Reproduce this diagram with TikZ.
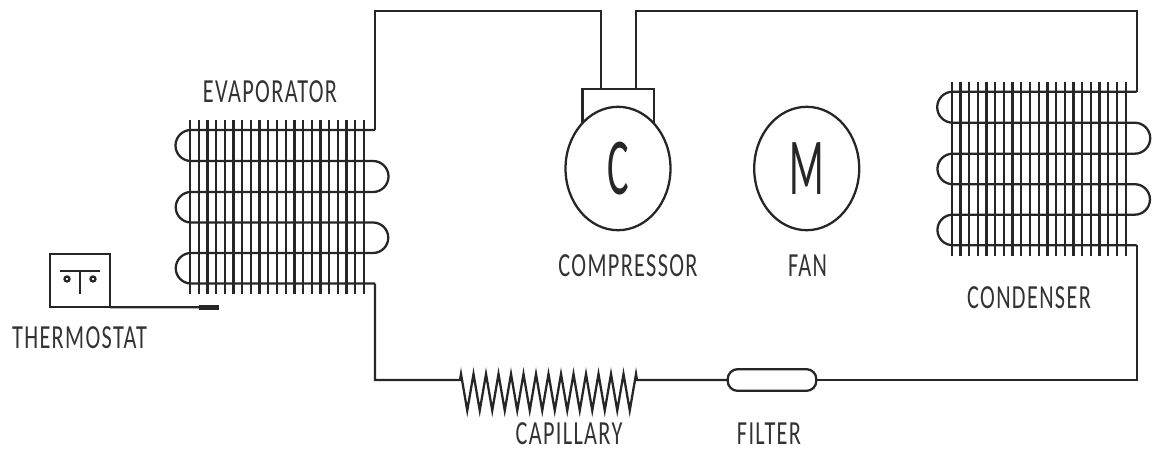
\documentclass[tikz,border=0pt]{standalone}
\usepackage{fontspec}
\usetikzlibrary{shapes.geometric}
\newfontfamily\labelfont[FakeStretch=0.66,LetterSpace=4]{Carlito}
\newfontfamily\bigfont[FakeStretch=0.5]{Carlito}
\tikzset{
  pipe/.style={line width=.65pt,color=black!85,outer sep=0pt},
  unit/.style={draw,ellipse,pipe,fill=white,inner sep=0pt,minimum width=1.05cm,minimum height=1.234cm,font=\bigfont\fontsize{23}{23}\selectfont},
  tag/.style={inner sep=0pt,text=black!80,font=\labelfont\fontsize{9.6}{10}\selectfont},
  pics/coil/.style={code={
    \foreach \i in {0,...,20}
      \draw[pipe] ({\i*.087},0) -- ({\i*.087},-1.74);
    \coordinate(-in) at (1.85,-.10);
    \coordinate(-out) at (1.85,-1.635);
    \draw[pipe] (-in) -- (.01,-.10) arc (90:270:.155)
      -- (1.83,-.41) arc (90:-90:.155)
      -- (.01,-.72) arc (90:270:.1525)
      -- (1.83,-1.025) arc (90:-90:.1525)
      -- (.01,-1.33) arc (90:270:.1525)
      -- (-out);
  }}
}
\begin{document}
\begin{tikzpicture}
   \useasboundingbox (0,0) rectangle (11.55,4.5);

   \pic(evap) at (1.9,3.3) {coil};
   \pic(cond) at (9.517,3.683) {coil};

   \node(head)[draw,pipe,minimum width=.713cm,minimum height=.51cm,inner sep=0pt] at (6.18,3.355) {};
   \node(comp)[unit] at (6.18,2.815) {C};
   \node(fan)[unit] at (8.067,2.815) {M};

   \coordinate(suction) at (6.007,3.61);
   \coordinate(discharge) at (6.36,3.61);
   \coordinate(topA) at (6.007,4.39);
   \coordinate(topB) at (6.36,4.39);
   \draw[pipe] (evap-in) |- (topA) -- (suction);
   \draw[pipe] (discharge) -- (topB) -| (cond-in);

   \node(filter)[draw,pipe,rounded corners=.1cm,minimum width=.887cm,minimum height=.217cm,inner sep=0pt] at (7.72,.7) {};
   \coordinate(capA) at (4.6,.7);
   \coordinate(capB) at (6.37,.7);
   \draw[pipe] (evap-out) |- (capA) -- (4.61,.76)
     \foreach \i in {1,...,14} { -- ++(.0625,-.365) -- ++(.0625,.365) }
     -- (capB) -- (filter.west);
   \draw[pipe] (filter.east) -| (cond-out);

   \node(stat)[draw,pipe,minimum width=.6cm,minimum height=.533cm,inner sep=0pt] at (.8,1.693) {};
   \draw[pipe] (.6,1.793) -- (1,1.793);
   \draw[pipe] (.8,1.793) -- (.8,1.56);
   \draw[pipe] (.67,1.71) circle (.025);
   \draw[pipe] (.93,1.71) circle (.025);
   \node(bulb)[fill=black!85,outer sep=0pt,minimum width=.2cm,minimum height=.045cm,inner sep=0pt] at (2.09,1.4265) {};
   \draw[pipe] (stat.south east) -- (bulb.west);

   \node(Tevap)[tag] at (2.7,3.58) {EVAPORATOR};
   \node(Tstat)[tag] at (.795,1.12) {THERMOSTAT};
   \node(Tcomp)[tag] at (6.28,1.84) {COMPRESSOR};
   \node(Tfan)[tag] at (8.075,1.84) {FAN};
   \node(Tcond)[tag] at (10.29,1.52) {CONDENSER};
   \node(Tcap)[tag] at (5.69,.16) {CAPILLARY};
   \node(Tfilter)[tag] at (7.69,.16) {FILTER};
\end{tikzpicture}
\end{document}
